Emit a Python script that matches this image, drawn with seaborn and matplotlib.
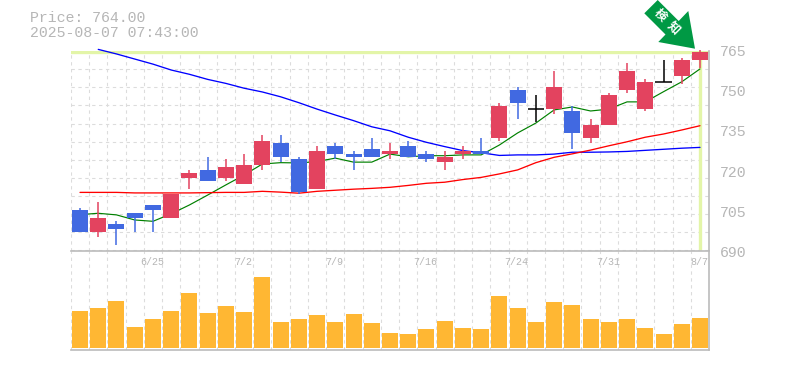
import numpy as np
import pandas as pd
import matplotlib
matplotlib.use("Agg")
import matplotlib.pyplot as plt
from matplotlib.patches import Polygon
import seaborn as sns

open_p = [705,697,700,704,707,702,717,720,717,715,722,730,724,713,729,726,728,726,729,726,723,726,727,732,750,743,743,742,732,737,750,743,753,755,761]
close_p = [697,702,698,702,705,711,719,716,721,722,731,725,712,727,726,725,725,727,725,724,725,727,726,744,745,743,751,734,737,748,757,753,753,761,764]
high_p = [706,708,701,704,707,711,720,725,724,726,733,733,725,729,730,727,732,730,731,727,727,729,732,745,751,748,757,744,739,749,760,754,761,762,765]
low_p = [697,695,692,697,697,702,713,716,716,715,720,723,711,713,724,720,725,724,725,723,720,724,726,731,739,738,741,728,730,737,749,742,753,752,758]
ma_short = [703.4,703.9,703.3,701.4,700.9,703.7,707.0,710.7,714.5,718.2,722.3,722.8,722.7,723.2,724.5,723.0,723.0,726.0,725.0,725.4,725.4,725.7,725.7,729.4,733.9,737.6,742.5,743.6,742.1,742.8,745.5,745.5,749.3,753.0,757.8]
ma_mid = [711.7,711.7,711.7,711.5,711.5,711.5,711.5,711.6,711.7,711.7,712.1,711.8,711.4,712.1,712.5,712.9,713.2,713.6,714.3,715.1,715.5,716.5,717.3,718.6,720.1,722.8,724.8,726.1,727.5,729.1,730.6,732.3,733.5,735.0,736.6]
ma_long = [np.nan,765.1,763.4,761.5,759.6,757.4,755.8,753.9,752.4,750.6,749.2,747.4,745.2,742.8,740.6,738.5,736.2,734.7,732.3,730.4,728.8,727.3,726.5,725.5,725.7,725.7,726.0,726.7,726.7,726.8,727.0,727.4,727.8,728.2,728.5]
volume = [37,40,47,21,29,37,55,35,42,36,71,26,29,33,26,34,25,15,14,19,27,20,19,52,40,26,46,43,29,26,29,20,14,24,30]
date_labels = ["6/25","7/2","7/9","7/16","7/24","7/31","8/7"]
date_index = [4,9,14,19,24,29,34]
price_ticks = [690,705,720,735,750,765]
last_price = 764

W, H = 785, 370
GREY = "#bbbbbb"
TEXT = "#b6b6b6"
RED, BLUE = "#e3435f", "#4169e1"
HILITE = "#e3f5a8"
FONT = "Liberation Mono"
DASH = (0, (3, 3.2))
GRID = "#dcdcdc"

sns.set_theme(style="whitegrid", rc={"grid.color": GRID, "grid.linestyle": DASH,
                                     "grid.linewidth": 0.8, "axes.edgecolor": GREY,
                                     "xtick.bottom": False, "ytick.left": False})

df = pd.DataFrame({"i": np.arange(len(open_p)), "o": open_p, "c": close_p, "h": high_p, "l": low_p,
                   "s": ma_short, "m": ma_mid, "g": ma_long, "v": volume})

fig = plt.figure(figsize=(W / 100, H / 100), dpi=100)
L, R = 70.9, 709.1
ax = fig.add_axes([L / W, (H - 250.5) / H, (R - L) / W, 199.5 / H])
ax2 = fig.add_axes([L / W, (H - 350) / H, (R - L) / W, 99.5 / H])

xt = np.arange(-0.5, len(df), 1)

# price panel
ax.axhline(last_price, color=HILITE, lw=2.4, zorder=1.5)
ax.vlines(df["i"].iloc[-1], 690, last_price, color=HILITE, lw=2.4, zorder=1.5)
for col, c, w in (("g", "#0000ff", 0.95), ("s", "#008000", 0.85), ("m", "#ff0000", 0.95)):
    sns.lineplot(data=df, x="i", y=col, ax=ax, color=c, lw=w, zorder=3,
                 clip_on=False, legend=False, errorbar=None)
up = df["c"] > df["o"]
down = df["c"] < df["o"]
flat = df["c"] == df["o"]
for mask, c in ((up, RED), (down, BLUE), (flat, "black")):
    d = df[mask]
    ax.vlines(d["i"], d["l"], d["h"], color=c, lw=1.1, zorder=4, clip_on=False)
    if c == "black":
        ax.hlines(d["o"], d["i"] - 0.44, d["i"] + 0.44, color=c, lw=1.1, zorder=4)
    else:
        bot = d[["o", "c"]].min(axis=1)
        ax.bar(d["i"], (d["o"] - d["c"]).abs(), bottom=bot, width=0.877, color=c,
               linewidth=0, zorder=5)
ax.set_xlim(-0.5, len(df) - 0.5)
ax.set_ylim(690, 764.5)
ax.set_xticks(xt)
ax.set_yticks(np.linspace(690, 764.5, 12))
ax.set_xticklabels([])
ax.set_yticklabels([])
ax.set_xlabel("")
ax.set_ylabel("")
for s in ("left", "top", "bottom"):
    ax.spines[s].set_visible(False)
ax.spines["right"].set_color(GREY)
ax.spines["right"].set_linewidth(1.2)
for v in price_ticks:
    ax.annotate(str(v), xy=(1, v), xycoords=ax.get_yaxis_transform(), xytext=(10.5, -2.5),
                textcoords="offset pixels", ha="left", va="center", color=TEXT,
                family=FONT, fontsize=10.7, annotation_clip=False)

# volume panel
sns.barplot(data=df, x="i", y="v", ax=ax2, color="#ffb733", saturation=1, width=0.877,
            linewidth=0, zorder=3, errorbar=None)
ax2.set_xlim(-0.5, len(df) - 0.5)
ax2.set_ylim(-2, 97.5)
ax2.set_xticks(xt)
ax2.set_xticklabels([])
ax2.set_yticks([])
ax2.set_xlabel("")
ax2.set_ylabel("")
ax2.grid(True, axis="x", color=GRID, linestyle=DASH, linewidth=0.8)
ax2.set_axisbelow(True)
ax2.spines["left"].set_visible(False)
for s in ("top", "bottom", "right"):
    ax2.spines[s].set_color(GREY)
    ax2.spines[s].set_linewidth(1.2)
tr = ax2.get_xaxis_transform()
for i, lab in zip(date_index, date_labels):
    ax2.annotate(lab, xy=(i, 0.885), xycoords=tr, xytext=(-1, 0), textcoords="offset pixels",
                 ha="center", va="center", color=TEXT, family=FONT, fontsize=7.2, zorder=6)

# header
fig.text(30 / W, 1 - 18 / H, "Price: 764.00", color=TEXT, family=FONT, fontsize=10.7, va="center", ha="left")
fig.text(30 / W, 1 - 33 / H, "2025-08-07 07:43:00", color=TEXT, family=FONT, fontsize=10.7, va="center", ha="left")

# marker arrow
arrow = [(695, 48.7), (688.3, 11), (678.7, 21), (657.7, 0), (644.3, 13.3), (665.5, 34.5), (658.3, 42)]
fig.add_artist(Polygon([(x / W, 1 - y / H) for x, y in arrow], closed=True, facecolor="#009944",
                       edgecolor="none", transform=fig.transFigure, zorder=10))
for (x, y), ch in zip([(660, 15), (673, 28)], "検知"):
    fig.text(x / W, 1 - y / H, ch, color="white", family="Noto Sans CJK JP", weight="bold",
             fontsize=8.8, rotation=-45, ha="center", va="center", rotation_mode="anchor", zorder=11)

fig.savefig("out.png", dpi=100)
